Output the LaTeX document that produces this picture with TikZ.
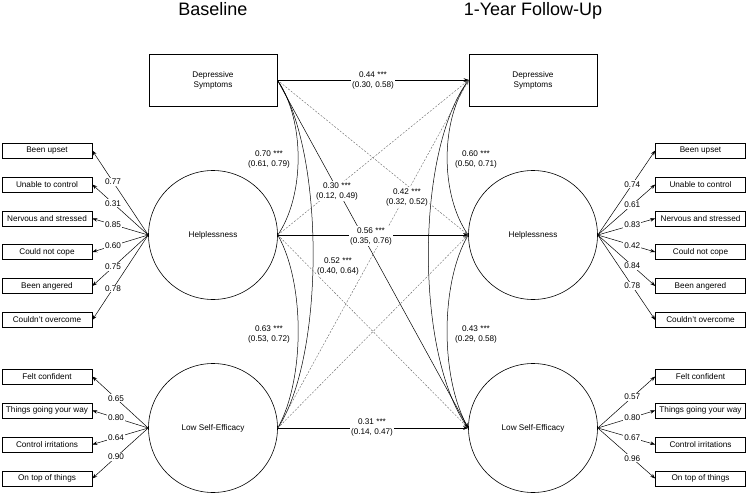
\documentclass[tikz,border=0pt]{standalone}
\usepackage{fontspec}
\setmainfont{Liberation Sans}
\usetikzlibrary{arrows.meta}
\begin{document}
\begin{tikzpicture}[x=1pt,y=-1pt,
  every node/.style={font=\fontsize{8.2}{10}\selectfont},
  ind/.style={draw, line width=0.6pt, minimum width=90pt, minimum height=15pt, inner sep=0pt},
  lat/.style={draw, circle, line width=0.6pt, minimum size=129pt, inner sep=0pt},
  obs/.style={draw, line width=0.6pt, minimum width=128pt, minimum height=52pt, align=center, inner sep=0pt},
  arr/.style={line width=0.5pt, -{Stealth[length=5pt,width=3.6pt]}},
  dsh/.style={line width=0.4pt, draw=black!60, dash pattern=on 2pt off 1.5pt, -{Stealth[length=5pt,width=3.6pt]}},
  cov/.style={line width=0.5pt},
  lbl/.style={fill=white, inner sep=1pt},
  est/.style={fill=white, inner sep=1pt, align=center},
  ttl/.style={font=\fontsize{18}{22}\selectfont, anchor=base}
]
\useasboundingbox (0,0) rectangle (748,493);

% titles
\node[ttl] (tB) at (213,15.5) {Baseline};
\node[ttl] (tF) at (533,15.5) {1-Year Follow-Up};

% main nodes
\node[obs] (DepL) at (213,80) {Depressive\\Symptoms};
\node[obs] (DepR) at (533,80) {Depressive\\Symptoms};
\node[lat] (HelpL) at (213,235) {Helplessness};
\node[lat] (HelpR) at (533,235) {Helplessness};
\node[lat] (LowL) at (213,428) {Low Self-Efficacy};
\node[lat] (LowR) at (533,428) {Low Self-Efficacy};

% indicators helplessness
\foreach \i/\y/\t in {1/150.5/Been upset, 2/184.5/Unable to control, 3/218.5/Nervous and stressed, 4/252/Could not cope, 5/286/Been angered, 6/320/Couldn't overcome}{
  \node[ind] (HL\i) at (47,\y) {\t};
  \node[ind] (HR\i) at (700.5,\y) {\t};
}
% indicators self-efficacy
\foreach \i/\y/\t in {1/376.5/Felt confident, 2/410.5/Things going your way, 3/444.5/Control irritations, 4/478.5/On top of things}{
  \node[ind] (LL\i) at (47,\y) {\t};
  \node[ind] (LR\i) at (700.5,\y) {\t};
}

% loadings left
\foreach \i/\v in {1/0.77, 2/0.31, 3/0.85, 4/0.60, 5/0.75, 6/0.78}{
  \draw[arr] (HelpL.west) -- node[lbl,pos=0.63]{\v} (HL\i.east);
}
\foreach \i/\v in {1/0.74, 2/0.61, 3/0.83, 4/0.42, 5/0.84, 6/0.78}{
  \draw[arr] (HelpR.east) -- node[lbl,pos=0.6]{\v} (HR\i.west);
}
\foreach \i/\v in {1/0.65, 2/0.80, 3/0.64, 4/0.90}{
  \draw[arr] (LowL.west) -- node[lbl,pos=0.575]{\v} (LL\i.east);
}
\foreach \i/\v in {1/0.57, 2/0.80, 3/0.67, 4/0.96}{
  \draw[arr] (LowR.east) -- node[lbl,pos=0.6]{\v} (LR\i.west);
}

% covariances baseline
\draw[cov] (DepL.east) .. controls (305,120) and (305,195) .. (HelpL.east);
\draw[cov] (DepL.east) .. controls (325,150) and (325,357) .. (LowL.east);
\draw[cov] (HelpL.east) .. controls (305,283) and (305,379) .. (LowL.east);
% covariances follow-up
\draw[cov] (DepR.west) .. controls (440,120) and (440,195) .. (HelpR.west);
\draw[cov] (DepR.west) .. controls (415,150) and (415,357) .. (LowR.west);
\draw[cov] (HelpR.west) .. controls (440,283) and (440,379) .. (LowR.west);

% cross-lagged (non-significant)
\draw[dsh] (DepL.east) -- (HelpR.west);
\draw[dsh] (HelpL.east) -- (DepR.west);
\draw[dsh] (HelpL.east) -- (LowR.west);
\draw[dsh] (LowL.east) -- (HelpR.west);
\draw[dsh] (LowL.east) -- (DepR.west);

% significant paths
\draw[arr] (DepL.east) -- (LowR.west);
\draw[arr] (DepL.east) -- (DepR.west);
\draw[arr] (HelpL.east) -- (HelpR.west);
\draw[arr] (LowL.east) -- (LowR.west);

% estimates
\node[est] (e44) at (373,80) {0.44 ***\\(0.30, 0.58)};
\node[est] (e70) at (269,159) {0.70 ***\\(0.61, 0.79)};
\node[est] (e30) at (337,191) {0.30 ***\\(0.12, 0.49)};
\node[est] (e42) at (407,197) {0.42 ***\\(0.32, 0.52)};
\node[est] (e60) at (476,159) {0.60 ***\\(0.50, 0.71)};
\node[est] (e56) at (371,236) {0.56 ***\\(0.35, 0.76)};
\node[est] (e52) at (338,266) {0.52 ***\\(0.40, 0.64)};
\node[est] (e63) at (269,334) {0.63 ***\\(0.53, 0.72)};
\node[est] (e43) at (476,334) {0.43 ***\\(0.29, 0.58)};
\node[est] (e31) at (372,427) {0.31 ***\\(0.14, 0.47)};
\end{tikzpicture}
\end{document}
